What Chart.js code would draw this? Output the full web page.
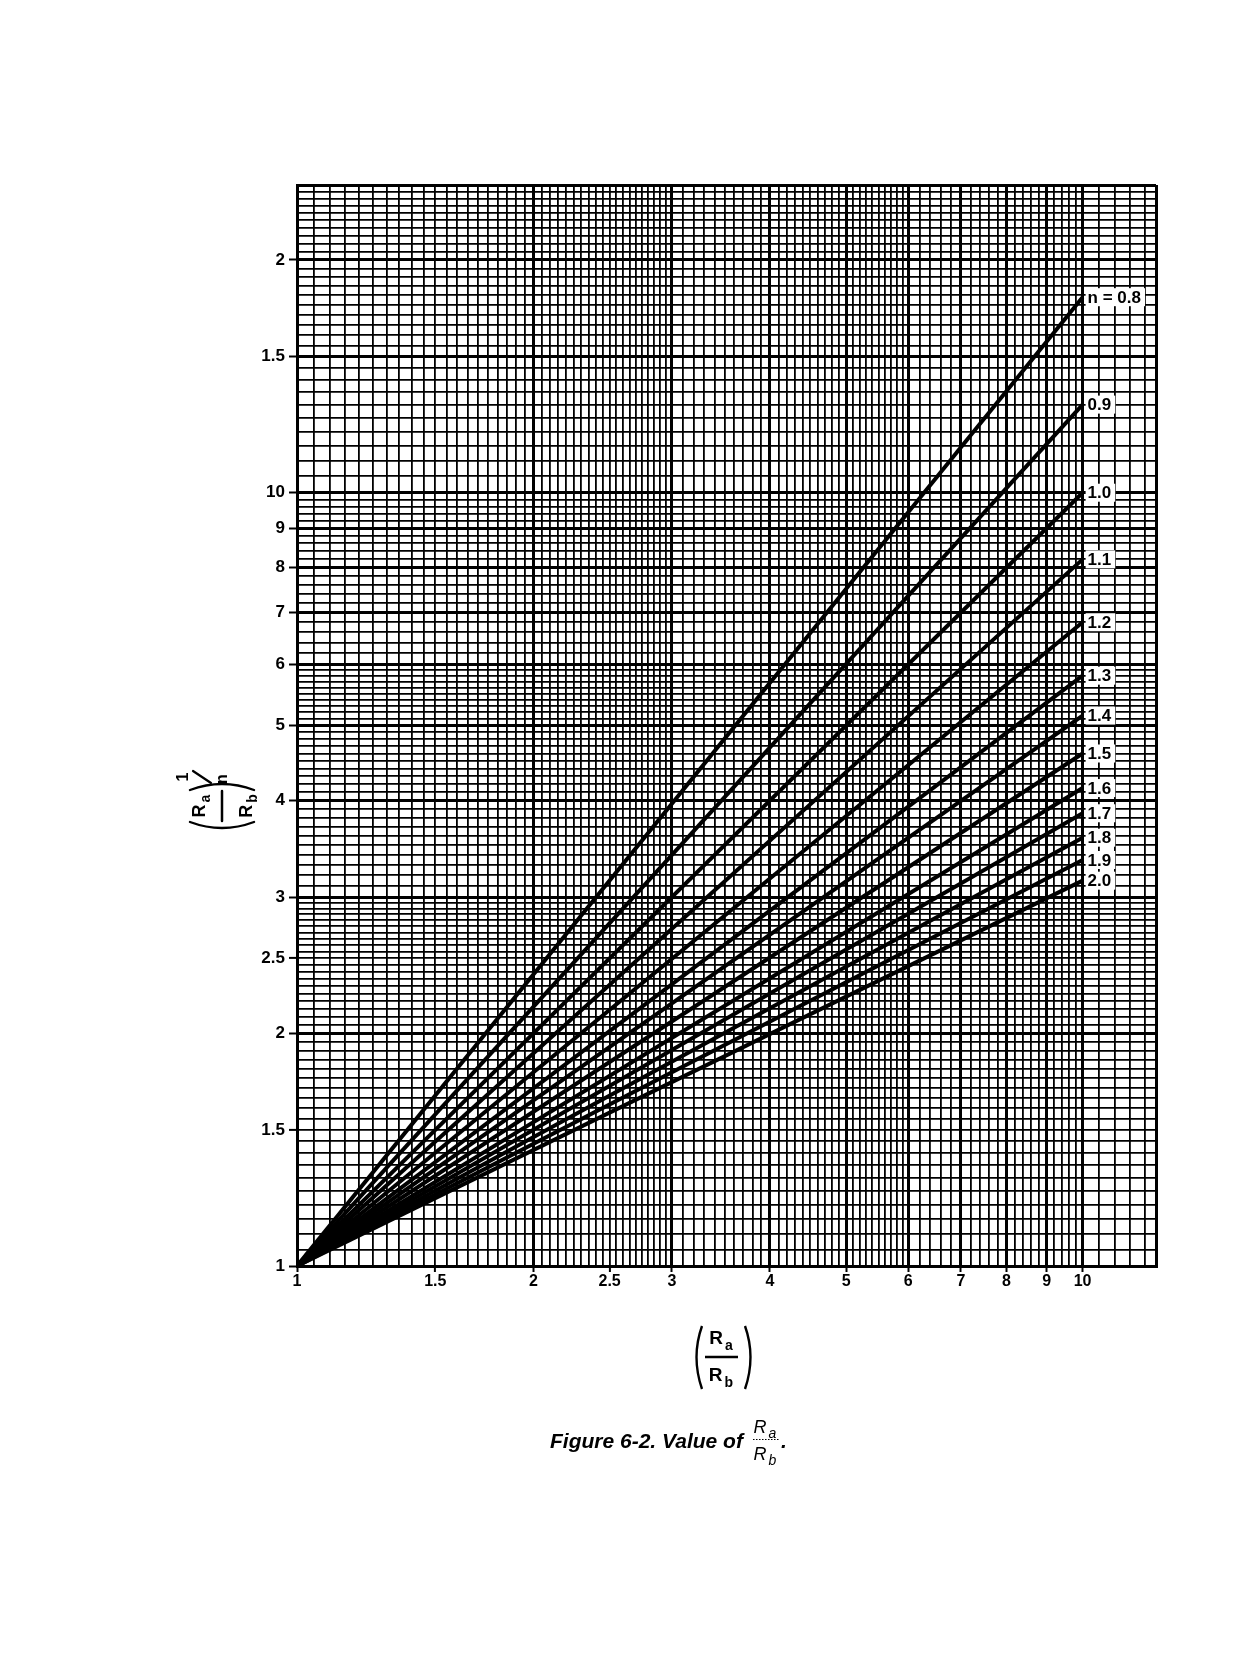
<!DOCTYPE html>
<html>
<head>
<meta charset="utf-8">
<script src="https://cdn.jsdelivr.net/npm/chart.js@4.4.1/dist/chart.umd.min.js"></script>
<style>
  html, body { margin: 0; padding: 0; background: #fff; }
  #wrap { position: relative; width: 1260px; height: 1654px; }
</style>
</head>
<body>
<div id="wrap"><canvas id="chart" width="1260" height="1654"></canvas></div>
<script>
// exponent n of each curve
const nValues = ['0.8', '0.9', '1.0', '1.1', '1.2', '1.3', '1.4', '1.5', '1.6', '1.7', '1.8', '1.9', '2.0'];
// (Ra/Rb)^(1/n) read where each curve reaches Ra/Rb = 10, all curves start at (1, 1)
const endValues = [17.9, 13.0, 10.0, 8.2, 6.8, 5.8, 5.15, 4.6, 4.15, 3.85, 3.58, 3.35, 3.15];
const startRatio = 1;
const startValue = 1;
const endRatio = 10;

// labelled ticks
const xTickValues = [1, 1.5, 2, 2.5, 3, 4, 5, 6, 7, 8, 9, 10];
const xTickLabels = ['1', '1.5', '2', '2.5', '3', '4', '5', '6', '7', '8', '9', '10'];
const yTickValues = [1, 1.5, 2, 2.5, 3, 4, 5, 6, 7, 8, 9, 10, 15, 20];
const yTickLabels = ['1', '1.5', '2', '2.5', '3', '4', '5', '6', '7', '8', '9', '10', '1.5', '2'];

// log paper rulings: [from, to, step]
const xMax = 12.4;
const yMax = 25;
const xRulings = [[1, 3, 0.05], [3, 6, 0.1], [6, 10, 0.2], [10, xMax, 0.5]];
const yRulings = [[1, 3, 0.05], [3, 6, 0.1], [6, 10, 0.2], [10, yMax, 0.5]];

function gridValues(rulings, max) {
  const out = [];
  rulings.forEach(([a, b, s]) => {
    for (let i = 0; a + i * s < b - 1e-9; i++) out.push(Math.round((a + i * s) * 100) / 100);
  });
  out.push(max);
  return out;
}
const xGrid = gridValues(xRulings, xMax);
const yGrid = gridValues(yRulings, yMax);

function findLabel(values, labels, v) {
  const i = values.findIndex(t => Math.abs(t - v) < 1e-6);
  return i < 0 ? '' : labels[i];
}
function isMajor(v, max) {
  if (Math.abs(v - max) < 1e-6) return true;
  return Number.isInteger(v) && (v <= 10 || v % 5 === 0);
}

const tickFont = { family: '"Liberation Sans", Arial, sans-serif', weight: 'bold' };

function drawSub(ctx, base, sub, x, y, size, style) {
  // "R" with a lowered subscript, centred on x, baseline y
  ctx.font = style + ' ' + size + 'px "Liberation Sans", Arial, sans-serif';
  const w1 = ctx.measureText(base).width;
  ctx.font = style + ' ' + Math.round(size * 0.75) + 'px "Liberation Sans", Arial, sans-serif';
  const w2 = ctx.measureText(sub).width;
  const left = x - (w1 + w2 + 2) / 2;
  ctx.textAlign = 'left';
  ctx.textBaseline = 'alphabetic';
  ctx.font = style + ' ' + size + 'px "Liberation Sans", Arial, sans-serif';
  ctx.fillText(base, left, y);
  ctx.font = style + ' ' + Math.round(size * 0.75) + 'px "Liberation Sans", Arial, sans-serif';
  ctx.fillText(sub, left + w1 + 2, y + size * 0.3);
}

const decorations = {
  id: 'decorations',
  afterDatasetsDraw(chart) {
    const { ctx, scales: { x, y } } = chart;
    ctx.save();
    ctx.font = 'bold 17px "Liberation Sans", Arial, sans-serif';
    ctx.textBaseline = 'middle';
    ctx.textAlign = 'left';
    const px = x.getPixelForValue(endRatio);
    endValues.forEach((v, i) => {
      const py = y.getPixelForValue(v);
      const text = i === 0 ? 'n = ' + nValues[i] : nValues[i];
      const w = ctx.measureText(text).width;
      ctx.fillStyle = '#fff';
      ctx.fillRect(px + 3, py - 9, w + 6, 18);
      ctx.fillStyle = '#000';
      ctx.fillText(text, px + 5, py + 1);
    });
    ctx.restore();
  },
  afterDraw(chart) {
    const ctx = chart.ctx;
    ctx.save();
    ctx.fillStyle = '#000';
    ctx.strokeStyle = '#000';
    ctx.lineCap = 'round';

    // y axis title (Ra/Rb)^(1/n), rotated
    ctx.translate(222, 806);
    ctx.rotate(-Math.PI / 2);
    drawSub(ctx, 'R', 'a', 0, -17, 18, 'bold');
    drawSub(ctx, 'R', 'b', 0, 30, 18, 'bold');
    ctx.lineWidth = 2.5;
    ctx.beginPath(); ctx.moveTo(-15, 0); ctx.lineTo(15, 0); ctx.stroke();
    ctx.lineWidth = 2.4;
    ctx.beginPath(); ctx.moveTo(-16, -32); ctx.quadraticCurveTo(-28, 0, -16, 32); ctx.stroke();
    ctx.beginPath(); ctx.moveTo(16, -32); ctx.quadraticCurveTo(28, 0, 16, 32); ctx.stroke();
    ctx.font = 'bold 16px "Liberation Sans", Arial, sans-serif';
    ctx.textAlign = 'center';
    ctx.textBaseline = 'middle';
    ctx.fillText('1', 29, -38);
    ctx.fillText('n', 27, 1);
    ctx.lineWidth = 2.2;
    ctx.beginPath(); ctx.moveTo(35, -29); ctx.lineTo(23, -11); ctx.stroke();
    ctx.restore();

    ctx.save();
    ctx.fillStyle = '#000';
    ctx.strokeStyle = '#000';
    // x axis title (Ra/Rb)
    drawSub(ctx, 'R', 'a', 721, 1344, 19, 'bold');
    drawSub(ctx, 'R', 'b', 721, 1381, 19, 'bold');
    ctx.lineWidth = 2.5;
    ctx.beginPath(); ctx.moveTo(705, 1357); ctx.lineTo(738, 1357); ctx.stroke();
    ctx.lineWidth = 2.4;
    ctx.beginPath(); ctx.moveTo(702, 1326); ctx.quadraticCurveTo(691, 1357, 702, 1389); ctx.stroke();
    ctx.beginPath(); ctx.moveTo(745, 1326); ctx.quadraticCurveTo(756, 1357, 745, 1389); ctx.stroke();

    // caption
    ctx.font = 'italic bold 21px "Liberation Sans", Arial, sans-serif';
    ctx.textAlign = 'left';
    ctx.textBaseline = 'alphabetic';
    ctx.fillText('Figure 6-2. Value of', 550, 1448);
    drawSub(ctx, 'R', 'a', 765, 1433, 18, 'italic');
    drawSub(ctx, 'R', 'b', 765, 1460, 18, 'italic');
    ctx.lineWidth = 1;
    ctx.setLineDash([1.5, 1.5]);
    ctx.beginPath(); ctx.moveTo(753, 1439.5); ctx.lineTo(779, 1439.5); ctx.stroke();
    ctx.setLineDash([]);
    ctx.font = 'italic bold 21px "Liberation Sans", Arial, sans-serif';
    ctx.fillText('.', 781, 1448);
    ctx.restore();
  }
};

const datasets = nValues.map((n, i) => ({
  label: 'n = ' + n,
  data: [{ x: startRatio, y: startValue }, { x: endRatio, y: endValues[i] }],
  borderColor: '#000',
  borderWidth: 4,
  pointRadius: 0,
  tension: 0,
  fill: false
}));

new Chart(document.getElementById('chart'), {
  type: 'line',
  data: { datasets },
  plugins: [decorations],
  options: {
    responsive: false,
    animation: false,
    layout: { padding: { left: 237, right: 104, top: 185, bottom: 348 } },
    plugins: { legend: { display: false }, tooltip: { enabled: false } },
    scales: {
      x: {
        type: 'logarithmic',
        min: 1,
        max: xMax,
        afterBuildTicks: s => { s.ticks = xGrid.map(v => ({ value: v })); },
        afterFit: s => { s.height = 40; },
        ticks: {
          autoSkip: false, maxRotation: 0, minRotation: 0, padding: 0, color: '#000',
          font: { ...tickFont, size: 16 },
          callback: v => findLabel(xTickValues, xTickLabels, v)
        },
        grid: {
          color: '#000',
          lineWidth: c => isMajor(c.tick.value, xMax) ? 3 : 1.8,
          tickLength: 6,
          tickWidth: 2,
          tickColor: c => findLabel(xTickValues, xTickLabels, c.tick.value) ? '#000' : 'rgba(0,0,0,0)'
        },
        border: { display: true, color: '#000', width: 3 }
      },
      y: {
        type: 'logarithmic',
        min: 1,
        max: yMax,
        afterBuildTicks: s => { s.ticks = yGrid.map(v => ({ value: v })); },
        afterFit: s => { s.width = 60; },
        ticks: {
          autoSkip: false, padding: 4, color: '#000',
          font: { ...tickFont, size: 17 },
          callback: v => findLabel(yTickValues, yTickLabels, v)
        },
        grid: {
          color: '#000',
          lineWidth: c => isMajor(c.tick.value, yMax) ? 3 : 1.8,
          tickLength: 8,
          tickWidth: 2,
          tickColor: c => findLabel(yTickValues, yTickLabels, c.tick.value) ? '#000' : 'rgba(0,0,0,0)'
        },
        border: { display: true, color: '#000', width: 3 }
      }
    }
  }
});
</script>
</body>
</html>
